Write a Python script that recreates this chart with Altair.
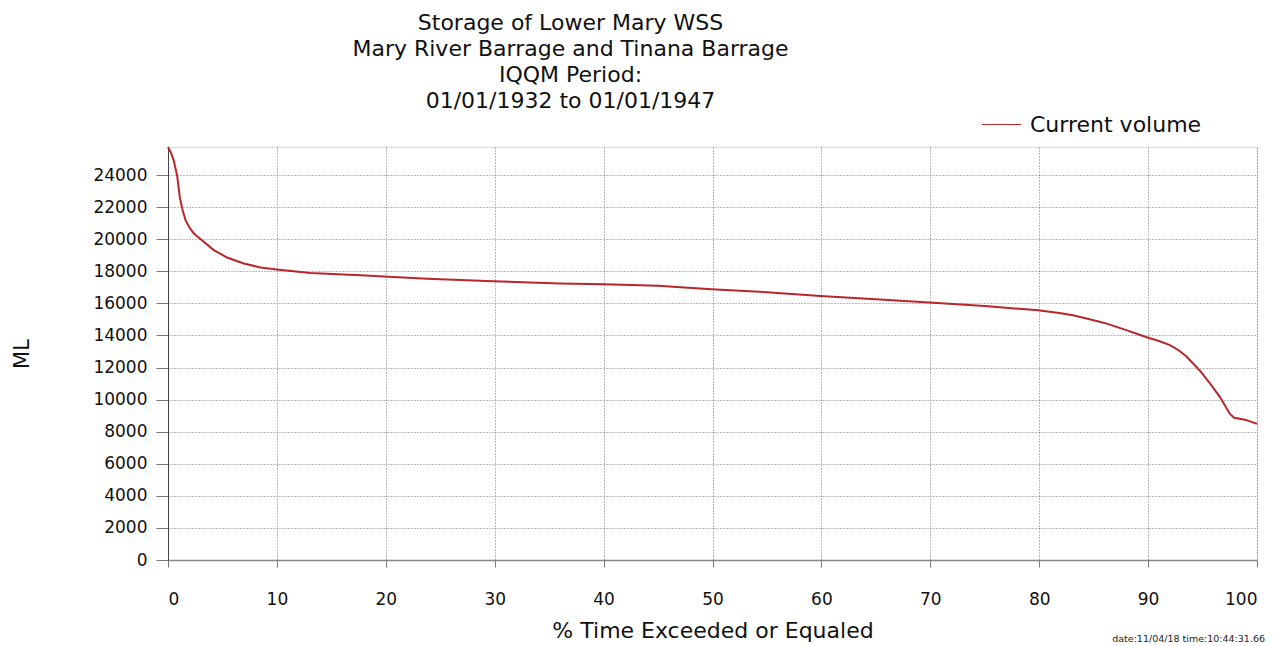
import altair as alt
import pandas as pd

# % time exceeded or equalled
pct = [0.0, 0.3, 0.53, 0.84, 1.08, 1.30, 1.61, 2.0, 2.37, 3.28, 4.2, 5.43, 6.95, 8.49,
       10.0, 13.07, 17.66, 23.8, 29.9, 36.0, 40.0, 45.0, 49.9, 55.0, 59.9, 65.0,
       69.9, 75.0, 79.9, 82.0, 83.1, 85.0, 86.2, 88.0, 89.8, 91.0, 92.0, 92.8,
       93.5, 94.7, 95.7, 96.6, 97.5, 97.9, 98.9, 99.3, 100.0]
# storage volume (ML)
volume = [25750, 25350, 24890, 23960, 22650, 21920, 21190, 20700, 20360, 19840,
          19320, 18860, 18490, 18240, 18110, 17900, 17760, 17530, 17380, 17240,
          17200, 17100, 16880, 16700, 16460, 16260, 16050, 15830, 15570, 15390,
          15260, 14950, 14740, 14330, 13900, 13650, 13400, 13080, 12700, 11850,
          11000, 10160, 9120, 8870, 8740, 8660, 8490]
series_name = "Current volume"
title_lines = ["Storage of Lower Mary WSS",
               "Mary River Barrage and Tinana Barrage",
               "IQQM Period:",
               "01/01/1932 to 01/01/1947"]
y_ticks = list(range(0, 24001, 2000))
x_ticks = list(range(0, 101, 10))
stamp = "date:11/04/18  time:10:44:31.66"

df = pd.DataFrame({"pct": pct, "volume": volume, "series": series_name})

FONT = "DejaVu Sans"
W, H = 1089, 413

line = alt.Chart(df).mark_line(strokeWidth=2).encode(
    x=alt.X("pct:Q",
            scale=alt.Scale(domain=[0, 100], nice=False),
            axis=alt.Axis(values=x_ticks, title="% Time Exceeded or Equaled",
                          grid=True, gridDash=[1, 2], gridColor="#777",
                          tickSize=7, tickColor="#777", domainColor="#888",
                          domainWidth=1.5, labelFontSize=17, labelPadding=24,
                          labelFont=FONT, labelColor="#111",
                          titleFont=FONT, titleFontSize=22,
                          titleFontWeight="normal", titleColor="#111",
                          titlePadding=13)),
    y=alt.Y("volume:Q",
            scale=alt.Scale(domain=[0, 25750], nice=False, zero=True),
            axis=alt.Axis(values=y_ticks, title="ML", format="d",
                          grid=True, gridDash=[1, 2], gridColor="#777",
                          tickSize=12, tickColor="#777", domainColor="#444",
                          labelFontSize=17, labelPadding=9, labelFont=FONT,
                          labelColor="#111",
                          titleFont=FONT, titleFontSize=21,
                          titleFontWeight="normal", titleColor="#111",
                          titlePadding=60)),
    color=alt.Color("series:N",
                    scale=alt.Scale(domain=[series_name], range=["#b8252b"]),
                    legend=alt.Legend(title=None, orient="none",
                                      legendX=813, legendY=-43,
                                      symbolType="stroke", symbolSize=1521,
                                      symbolStrokeWidth=1.2,
                                      labelFont=FONT, labelFontSize=22,
                                      labelColor="#111", labelOffset=8,
                                      labelLimit=400, padding=0)),
)

stamp_layer = alt.Chart(pd.DataFrame({"t": [stamp]})).mark_text(
    font=FONT, fontSize=9.5, align="right", baseline="middle", color="#222"
).encode(x=alt.value(1097), y=alt.value(492), text="t:N")

chart = alt.layer(line, stamp_layer).properties(
    width=W, height=H,
    autosize=alt.AutoSizeParams(type="none"),
    padding={"left": 160, "top": 139, "right": 22, "bottom": 84},
    title=alt.TitleParams(text=title_lines, font=FONT, fontSize=22,
                          fontWeight="normal", lineHeight=26, anchor="middle",
                          frame="group", dx=-142, offset=-9, color="#111"),
).configure_view(stroke=None).configure(background="white")

chart.save("out.html", embed_options={"renderer": "svg", "actions": False})
